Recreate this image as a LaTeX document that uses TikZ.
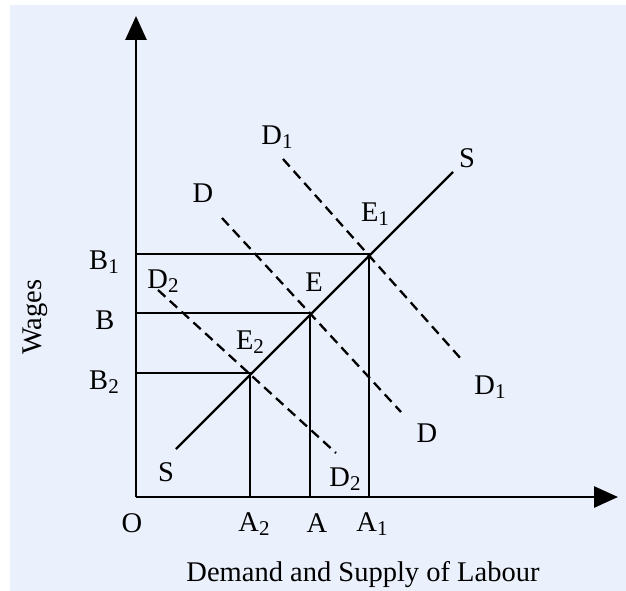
\documentclass[tikz,border=0pt]{standalone}
\usepackage{fontspec}
\setmainfont{Liberation Serif}
\usetikzlibrary{arrows.meta}
\definecolor{bgblue}{RGB}{234,240,252}
\newcommand{\lsub}[1]{\raisebox{-0.35ex}{\fontsize{21}{21}\selectfont #1}}
\begin{document}
\begin{tikzpicture}[x=1pt,y=-1pt,
  lbl/.style={font=\fontsize{28.5}{28.5}\selectfont, inner sep=0pt},
  axis/.style={line width=2.8pt, -{Triangle[length=24pt,width=21pt]}},
  solid line/.style={line width=2.3pt},
  dem/.style={line width=2.3pt, dash pattern=on 10pt off 6pt}]
\useasboundingbox (0,0) rectangle (626,591);
\fill[white] (0,0) rectangle (626,591);
\fill[bgblue] (10,5) rectangle (626,591);
% coordinates
\coordinate (O) at (136,497);
\coordinate (ytip) at (136,16);
\coordinate (xtip) at (618,497);
\coordinate (E1) at (369,254);
\coordinate (E) at (310,313);
\coordinate (E2) at (250,373);
\coordinate (A2) at (250,497);
\coordinate (A) at (310,497);
\coordinate (A1) at (369,497);
\coordinate (B1) at (136,254);
\coordinate (B) at (136,313);
\coordinate (B2) at (136,373);
\coordinate (Slo) at (176,449);
\coordinate (Shi) at (453,172);
\coordinate (D1a) at (283,159);
\coordinate (D1b) at (462,360);
\coordinate (Da) at (222,218);
\coordinate (Db) at (401,412);
\coordinate (D2a) at (158,290);
\coordinate (D2b) at (336,453);
% axes
\draw[axis] (O) -- (ytip);
\draw[axis] (O) -- (xtip);
% guide lines
\draw[solid line] (B1) -- (E1) -- (A1);
\draw[solid line] (B) -- (E) -- (A);
\draw[solid line] (B2) -- (E2) -- (A2);
% supply
\draw[solid line] (Slo) -- (Shi);
% demand
\draw[dem] (D1a) -- (D1b);
\draw[dem] (Da) -- (Db);
\draw[dem] (D2a) -- (D2b);
% labels
\node[lbl] (lD1t) at (277,137) {D\lsub{1}};
\node[lbl] (lDt) at (203,193) {D};
\node[lbl] (lE1) at (375,214) {E\lsub{1}};
\node[lbl] (lSt) at (467,158) {S};
\node[lbl] (lE) at (314,282) {E};
\node[lbl] (lE2) at (250,342) {E\lsub{2}};
\node[lbl] (lD2t) at (163,281) {D\lsub{2}};
\node[lbl] (lD1b) at (490,387) {D\lsub{1}};
\node[lbl] (lDb) at (427,433) {D};
\node[lbl] (lD2b) at (345,479) {D\lsub{2}};
\node[lbl] (lSb) at (166,472) {S};
\node[lbl] (lB1) at (104,262) {B\lsub{1}};
\node[lbl] (lB) at (105,320) {B};
\node[lbl] (lB2) at (104,382) {B\lsub{2}};
\node[lbl] (lO) at (132,523) {O};
\node[lbl] (lA2) at (254,524) {A\lsub{2}};
\node[lbl] (lA) at (317,523) {A};
\node[lbl] (lA1) at (372,524) {A\lsub{1}};
\node[lbl] (lX) at (363,575) {Demand and Supply of Labour};
\node[lbl, rotate=90] (lY) at (35,317) {Wages};
\end{tikzpicture}
\end{document}
